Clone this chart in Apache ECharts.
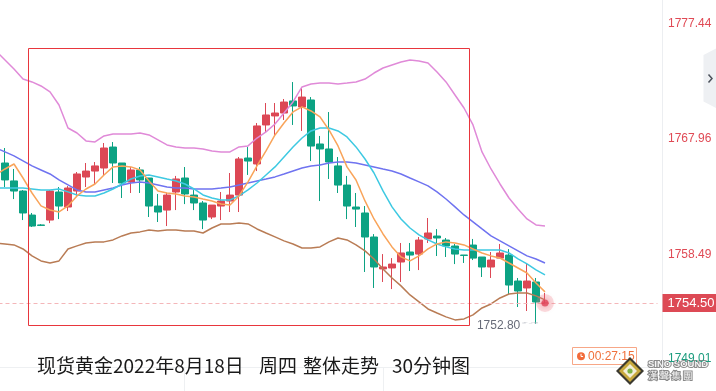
<!DOCTYPE html>
<html>
<head>
<meta charset="utf-8">
<script src="https://cdn.jsdelivr.net/npm/echarts@6/dist/echarts.min.js"></script>
<style>
html,body{margin:0;padding:0;background:#fff;}
#c{width:716px;height:391px;}
</style>
</head>
<body>
<div id="c"></div>
<script>
// ---- categories: one lead-in bar (left edge, off screen), 61 visible 30-min bars, 12 empty future slots
const categories = [
  '08-17 10:30',
  '08-17 11:00','08-17 11:30','08-17 12:00','08-17 12:30','08-17 13:00','08-17 13:30','08-17 14:00','08-17 14:30',
  '08-17 15:00','08-17 15:30','08-17 16:00','08-17 16:30','08-17 17:00','08-17 17:30','08-17 18:00','08-17 18:30',
  '08-17 19:00','08-17 19:30','08-17 20:00','08-17 20:30','08-17 21:00','08-17 21:30','08-17 22:00','08-17 22:30',
  '08-17 23:00','08-17 23:30','08-18 00:00','08-18 00:30','08-18 01:00','08-18 01:30','08-18 02:00','08-18 02:30',
  '08-18 03:00','08-18 03:30','08-18 04:00','08-18 04:30','08-18 05:00','08-18 05:30','08-18 06:00','08-18 06:30',
  '08-18 07:00','08-18 07:30','08-18 08:00','08-18 08:30','08-18 09:00','08-18 09:30','08-18 10:00','08-18 10:30',
  '08-18 11:00','08-18 11:30','08-18 12:00','08-18 12:30','08-18 13:00','08-18 13:30','08-18 14:00','08-18 14:30',
  '08-18 15:00','08-18 15:30','08-18 16:00','08-18 16:30','08-18 17:00'
];
const futureSlots = ['08-18 17:30','08-18 18:00','08-18 18:30','08-18 19:00','08-18 19:30','08-18 20:00',
  '08-18 20:30','08-18 21:00','08-18 21:30','08-18 22:00','08-18 22:30','08-18 23:00'];

// ---- candle values for the 61 visible bars
const opens  = [1765.98,1764.51,1763.68,1761.71,1760.90,1761.30,1763.60,1762.37,1763.68,1764.83,1765.32,1765.57,1767.29,1765.98,1764.42,1765.41,1764.75,1762.45,1762.12,1763.60,1764.75,1763.35,1762.70,1761.55,1762.45,1762.86,1763.35,1766.39,1765.90,1769.10,1769.84,1770.08,1771.07,1770.57,1771.15,1767.54,1767.13,1765.74,1764.17,1762.37,1761.88,1759.91,1757.29,1757.37,1757.86,1758.68,1758.51,1759.75,1759.99,1759.66,1759.17,1758.43,1759.25,1758.27,1757.45,1758.18,1758.43,1756.30,1755.73,1756.22,1754.45];
const closes = [1764.59,1763.68,1761.88,1760.81,1760.86,1763.68,1762.45,1763.93,1765.08,1765.32,1765.74,1767.21,1765.98,1764.34,1765.41,1764.59,1762.45,1761.96,1763.35,1764.67,1763.44,1762.70,1761.30,1762.53,1762.86,1763.35,1766.31,1766.14,1769.02,1769.92,1770.08,1770.98,1770.66,1771.39,1767.37,1767.13,1766.06,1764.17,1762.45,1762.20,1759.91,1757.45,1757.45,1757.69,1758.60,1758.43,1759.66,1760.24,1759.83,1759.17,1758.51,1758.40,1758.18,1757.45,1758.02,1758.60,1755.97,1755.48,1756.30,1754.58,1754.50];
const lows   = [1764.01,1763.02,1761.30,1760.73,1760.81,1761.05,1761.38,1762.04,1763.19,1764.01,1764.26,1764.92,1764.34,1763.11,1763.52,1763.52,1761.55,1761.14,1760.81,1762.12,1762.61,1762.12,1760.56,1761.38,1761.30,1761.96,1761.96,1765.00,1765.32,1768.44,1768.28,1769.51,1769.10,1768.61,1766.14,1762.86,1764.67,1763.52,1761.38,1760.73,1757.04,1755.73,1756.22,1755.64,1756.22,1757.12,1757.20,1759.42,1758.35,1758.27,1757.69,1757.78,1758.02,1756.63,1756.55,1758.18,1755.23,1754.17,1753.84,1752.80,1754.40];
const highs  = [1767.21,1765.49,1763.76,1761.88,1760.97,1763.76,1764.01,1764.09,1765.24,1765.98,1766.06,1767.62,1767.70,1765.98,1765.65,1765.65,1764.75,1763.44,1763.52,1764.92,1765.65,1763.76,1762.86,1762.53,1763.60,1765.16,1766.47,1767.29,1769.26,1770.90,1770.90,1771.23,1772.62,1772.21,1771.39,1768.20,1770.16,1766.47,1764.92,1763.52,1762.45,1760.15,1758.51,1758.18,1759.42,1759.42,1759.91,1761.47,1760.56,1759.83,1759.34,1758.43,1759.75,1758.27,1758.68,1759.34,1758.92,1756.55,1757.78,1756.55,1755.32];

// ---- indicator lines (lead-in bar + 61 visible bars)
const ma5 = [1765.04,1765.49,1765.90,1764.75,1763.52,1762.46,1762.13,1761.97,1762.46,1763.28,1763.85,1764.26,1765.00,1765.66,1765.74,1765.66,1765.41,1764.51,1763.69,1763.52,1763.44,1763.28,1763.20,1763.03,1762.87,1762.62,1762.54,1763.28,1764.43,1765.74,1766.97,1768.28,1769.26,1770.17,1770.58,1770.25,1769.76,1768.69,1767.38,1765.66,1764.59,1762.87,1761.39,1760.16,1759.10,1758.28,1757.95,1758.36,1758.93,1759.34,1759.51,1759.42,1759.26,1758.93,1758.60,1758.36,1758.19,1757.78,1757.37,1756.96,1756.14,1755.41];
const ma10 = [1763.93,1763.93,1763.93,1763.93,1763.85,1763.77,1763.77,1763.85,1763.61,1763.36,1763.28,1763.28,1763.52,1763.85,1764.26,1764.67,1764.92,1765.00,1764.84,1764.67,1764.51,1764.26,1763.85,1763.36,1763.11,1762.95,1762.95,1763.28,1763.77,1764.34,1765.00,1765.66,1766.48,1767.30,1768.03,1768.61,1768.85,1768.85,1768.61,1768.12,1767.30,1766.31,1765.16,1763.69,1762.38,1761.39,1760.65,1760.08,1759.67,1759.34,1759.10,1758.93,1758.85,1758.85,1758.85,1758.85,1758.85,1758.60,1758.11,1757.70,1757.21,1756.80];
const bollMid = [1767.21,1766.89,1766.56,1766.15,1765.74,1765.41,1765.08,1764.59,1764.18,1763.77,1763.61,1763.61,1763.77,1763.93,1764.18,1764.34,1764.43,1764.34,1764.18,1764.02,1763.93,1763.93,1763.85,1763.85,1763.85,1763.93,1764.02,1764.18,1764.34,1764.51,1764.67,1764.84,1765.08,1765.33,1765.57,1765.74,1765.82,1765.98,1766.07,1766.07,1765.98,1765.82,1765.66,1765.49,1765.33,1765.08,1764.75,1764.43,1764.10,1763.61,1763.03,1762.38,1761.72,1761.15,1760.57,1760.00,1759.59,1759.18,1758.77,1758.36,1758.11,1757.78];
const bollUpper = [1775.17,1774.43,1773.69,1772.87,1772.63,1772.30,1771.81,1770.74,1768.85,1768.44,1767.79,1767.71,1768.20,1768.36,1768.36,1768.36,1768.44,1768.28,1767.87,1767.46,1767.30,1767.21,1767.21,1767.13,1766.97,1766.89,1766.89,1767.30,1767.38,1768.03,1768.53,1769.18,1770.08,1770.99,1772.22,1772.46,1772.54,1772.54,1772.46,1772.54,1772.63,1772.87,1773.36,1773.77,1774.02,1774.27,1774.43,1774.35,1774.18,1773.45,1772.63,1771.56,1770.49,1769.10,1766.89,1765.49,1764.26,1763.11,1762.21,1761.39,1760.90,1760.82];
const bollLower = [1759.42,1759.34,1759.26,1758.93,1758.36,1757.95,1757.78,1757.95,1758.93,1759.18,1759.42,1759.51,1759.51,1759.67,1760.00,1760.24,1760.33,1760.49,1760.41,1760.49,1760.49,1760.41,1760.41,1760.24,1760.65,1760.98,1760.98,1761.06,1760.98,1760.57,1760.24,1759.92,1759.59,1759.34,1759.01,1759.01,1759.10,1759.51,1759.83,1759.67,1759.26,1758.77,1758.11,1757.29,1756.55,1755.90,1755.16,1754.59,1754.01,1753.68,1753.36,1753.11,1753.19,1753.52,1754.09,1754.42,1754.91,1755.24,1755.32,1755.32,1755.08,1754.75];

// ---- axis ticks / annotations
const yTickLabels = [1749.01, 1758.49, 1767.96, 1777.44];
const currentPrice = 1754.50;
const lowPrice = 1752.80;
const lowBarIndex = 59;            // among visible bars
const boxBars = [3, 51];           // highlighted box: first / last visible bar inside
const boxPrices = [1775.45, 1752.73];
const titleParts = ['现货黄金2022年8月18日', '周四', '整体走势', '30分钟图'];
const countdownText = '00:27:15';

const UP = '#dc4855', DOWN = '#0ca283';
const NUM_FONT = '"Liberation Sans", Arial, sans-serif';
const CJK_FONT = '"Noto Sans CJK SC", sans-serif';

const candleData = [['-','-','-','-']].concat(opens.map((o, i) => [o, closes[i], lows[i], highs[i]]));
const axisCats = categories.concat(futureSlots);
const lastIdx = opens.length; // index of the last bar on the axis (lead-in offset of 1)

const chart = echarts.init(document.getElementById('c'), null, {renderer: 'canvas'});

function lineSeries(name, data, color) {
  return {
    type: 'line', name: name, data: data, symbol: 'none', showSymbol: false, silent: true,
    smooth: false, z: 3,
    lineStyle: {color: color, width: 1.5}, itemStyle: {color: color}
  };
}

const tickInterval = (yTickLabels[3] - yTickLabels[0]) / 3;

chart.setOption({
  animation: false,
  backgroundColor: '#ffffff',
  grid: {left: -8.5, top: 0, width: 666, height: 369.9, containLabel: false, outerBoundsMode: 'none'},
  xAxis: {type: 'category', data: axisCats, boundaryGap: true, show: false},
  yAxis: {
    type: 'value', position: 'right', offset: 4.5,
    min: yTickLabels[0], max: 1779.35, interval: tickInterval,
    axisLine: {show: true, lineStyle: {color: '#eceef1'}},
    axisTick: {show: false}, splitLine: {show: false},
    axisLabel: {
      showMaxLabel: false, margin: 6,
      formatter: function (v) {
        const s = v.toFixed(2);
        return v < currentPrice ? '{g|' + s + '}' : '{r|' + s + '}';
      },
      rich: {
        r: {color: '#e04a55', fontSize: 12, fontFamily: NUM_FONT},
        g: {color: '#1c9c7e', fontSize: 12, fontFamily: NUM_FONT, padding: [0, 0, 22, 0]}
      }
    }
  },
  series: [
    {
      type: 'candlestick', name: 'K', data: candleData, barWidth: 7, silent: true, z: 2,
      itemStyle: {color: UP, color0: DOWN, borderColor: UP, borderColor0: DOWN, borderWidth: 1},
      markLine: {
        silent: true, symbol: 'none', animation: false,
        lineStyle: {color: '#f4b6b9', type: [4, 3], width: 1},
        label: {
          show: true, position: 'end', distance: 5, formatter: currentPrice.toFixed(2),
          color: '#fff', backgroundColor: '#dd4a55', padding: [2, 5], fontSize: 13,
          lineHeight: 14, fontFamily: NUM_FONT
        },
        data: [{yAxis: currentPrice}]
      },
      markPoint: {
        silent: true, symbol: 'rect', symbolSize: [12, 1], symbolOffset: [-6, -1],
        itemStyle: {color: 'rgba(0,0,0,0)', borderColor: '#a7acb6', borderWidth: 1, borderType: 'dotted'},
        label: {
          show: true, position: 'left', distance: 2, offset: [0, 3],
          formatter: lowPrice.toFixed(2), color: '#676b78', fontSize: 12, fontFamily: NUM_FONT
        },
        data: [{coord: [lowBarIndex + 1, lowPrice]}]
      }
    },
    lineSeries('BOLL-LOWER', bollLower, '#b97c55'),
    lineSeries('BOLL-UPPER', bollUpper, '#e08ad8'),
    lineSeries('MA20', bollMid, '#6f73f0'),
    lineSeries('MA10', ma10, '#3ec9e2'),
    lineSeries('MA5', ma5, '#f9a45a'),
    {
      type: 'scatter', silent: true, z: 5, symbolSize: 18,
      itemStyle: {color: 'rgba(238,120,132,0.32)'},
      data: [[lastIdx, currentPrice]]
    },
    {
      type: 'scatter', silent: true, z: 6, symbolSize: 7,
      itemStyle: {color: '#e0455a', shadowBlur: 6, shadowColor: 'rgba(224,69,90,0.7)'},
      data: [[lastIdx, currentPrice]]
    }
  ]
});

// ---- overlay: annotation box (from axis scales), title, countdown, logo, side tab
const px = v => chart.convertToPixel({xAxisIndex: 0}, v);
const py = v => chart.convertToPixel({yAxisIndex: 0}, v);
const band = px(2) - px(1);
const bx1 = px(boxBars[0] + 1) - band / 2;
const bx2 = px(boxBars[1] + 1) + band / 2;
const by1 = py(boxPrices[0]);
const by2 = py(boxPrices[1]);

const titleX = [37, 259, 303, 392];
const titleEls = titleParts.map((t, i) => ({
  type: 'text', silent: true, z: 10, x: titleX[i], y: 366,
  style: {text: t, fontSize: 19, fontFamily: CJK_FONT, fill: '#1a1a1a', verticalAlign: 'middle', align: 'left'}
}));

chart.setOption({
  graphic: {elements: [
    {type: 'line', silent: true, z: 0, shape: {x1: 0, y1: 367.5, x2: 662, y2: 367.5}, style: {stroke: '#eef0f2', lineWidth: 1}},
    {type: 'line', silent: true, z: 0, shape: {x1: 184.5, y1: 367.5, x2: 184.5, y2: 391}, style: {stroke: '#eef0f2', lineWidth: 1}},
    {type: 'line', silent: true, z: 0, shape: {x1: 383.5, y1: 367.5, x2: 383.5, y2: 391}, style: {stroke: '#eef0f2', lineWidth: 1}},
    {type: 'rect', silent: true, z: 10,
      shape: {x: Math.round(bx1) + 0.5, y: Math.round(by1) + 0.5, width: Math.round(bx2 - bx1), height: Math.round(by2 - by1)},
      style: {fill: 'none', stroke: '#e8363d', lineWidth: 1}},
    ...titleEls,
    {type: 'group', silent: true, z: 10, x: 572.5, y: 347.5, children: [
      {type: 'rect', shape: {x: 0, y: 0, width: 64, height: 17}, style: {fill: '#fff', stroke: '#f7a787', lineWidth: 1}},
      {type: 'circle', shape: {cx: 8.5, cy: 8.8, r: 4}, style: {fill: '#f26b3a'}},
      {type: 'polyline', shape: {points: [[8.5, 6.3], [8.5, 9], [10.6, 9]]}, style: {stroke: '#fff', lineWidth: 1, fill: 'none'}},
      {type: 'text', x: 15.5, y: 9, style: {text: countdownText, fontSize: 12, fontFamily: NUM_FONT, fill: '#f0703a', verticalAlign: 'middle'}}
    ]},
    {type: 'polygon', silent: true, z: 10, shape: {points: [[703.5, 55], [716, 48.5], [716, 108], [703.5, 101.5]]}, style: {fill: '#eef0f3'}},
    {type: 'polyline', silent: true, z: 11, shape: {points: [[708.5, 74.5], [712, 78.5], [708.5, 82.5]]}, style: {stroke: '#4d525c', lineWidth: 1.5, fill: 'none'}},
    {type: 'group', silent: true, z: 12, children: [
      {type: 'polygon', shape: {points: [[630, 357], [644, 371], [630, 385], [616, 371]]}, style: {fill: '#3c3a30'}},
      {type: 'polygon', shape: {points: [[630, 360], [641, 371], [630, 382], [619, 371]]}, style: {fill: '#c9a93e'}},
      {type: 'polygon', shape: {points: [[630, 364], [637, 371], [630, 378], [623, 371]]}, style: {fill: '#f3efd8'}},
      {type: 'circle', shape: {cx: 630, cy: 371, r: 2.6}, style: {fill: '#7cb342'}},
      {type: 'text', x: 648, y: 364.5, style: {text: 'SINO SOUND', fontSize: 9.5, fontWeight: 'bold', fontFamily: NUM_FONT, fill: '#f7f7f7', stroke: '#8a8a8a', lineWidth: 2, verticalAlign: 'middle'}},
      {type: 'text', x: 648, y: 375.5, style: {text: '漢 聲 集 團', fontSize: 9.5, fontFamily: '"Noto Sans CJK TC", sans-serif', fill: '#f7f7f7', stroke: '#8a8a8a', lineWidth: 2, verticalAlign: 'middle'}}
    ]}
  ]}
});
</script>
</body>
</html>
